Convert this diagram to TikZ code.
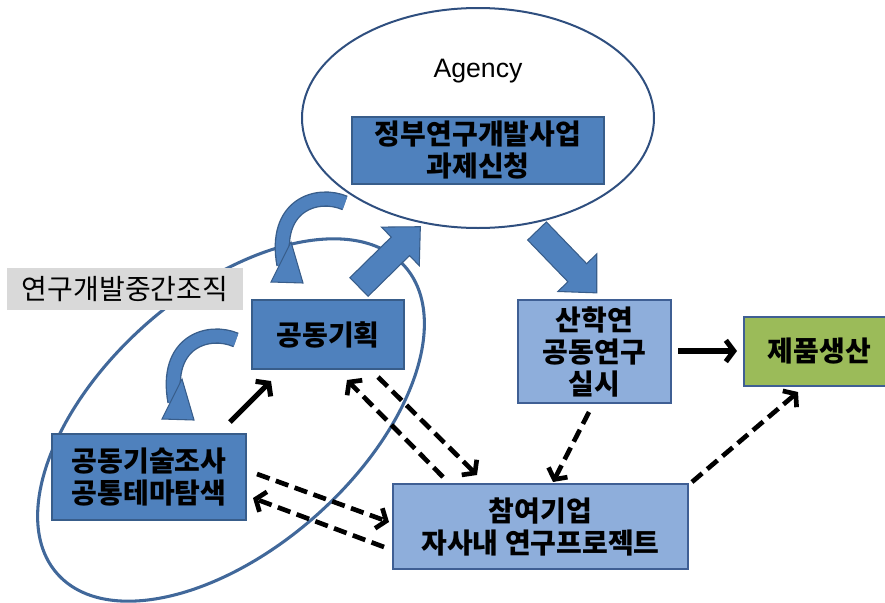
\documentclass[tikz,border=0pt]{standalone}
\usepackage{fontspec}
\setmainfont{Noto Sans CJK KR}
\newfontfamily\latinfont{Liberation Sans}
\usetikzlibrary{arrows.meta,shapes.geometric}

\definecolor{boxblue}{HTML}{4F81BD}
\definecolor{boxedge}{HTML}{385D8A}
\definecolor{lightblue}{HTML}{8EAEDB}
\definecolor{lightedge}{HTML}{3F5F94}
\definecolor{prodgreen}{HTML}{9BBB59}
\definecolor{ringblue}{HTML}{41689A}
\definecolor{agencyring}{HTML}{2F4F7F}
\definecolor{labelgray}{HTML}{D9D9D9}

\begin{document}
\begin{tikzpicture}[x=0.75pt,y=-0.75pt,
  darkbox/.style={draw=boxedge, fill=boxblue, line width=1.5pt, inner sep=0pt,
    align=center, font=\fontsize{21}{24}\selectfont\bfseries},
  lightbox/.style={darkbox, fill=lightblue, draw=lightedge},
  greenbox/.style={darkbox, fill=prodgreen, draw=lightedge},
  tagbox/.style={fill=labelgray, inner sep=0pt, font=\fontsize{21}{24}\selectfont},
  dasharrow/.style={line width=3.5pt, dash pattern=on 10pt off 5pt,
    -{Straight Barb[length=6pt,width=16pt]}},
  solidarrow/.style={line width=3.8pt, -{Straight Barb[length=6pt,width=16pt]}},
  blockarrow/.style={fill=boxblue, draw=boxedge, line width=0.8pt, line join=miter},
  loop arrow/.pic={
    \draw[boxedge, line width=11.5pt] (58,-80) .. controls (30,-92) and (-14,-78) .. (-3,-18);
    \draw[boxblue, line width=9.5pt] (58,-80) .. controls (30,-92) and (-14,-78) .. (-3,-18);
    \filldraw[fill=boxblue, draw=boxedge, line width=0.8pt] (4,-41) -- (-16,-1) -- (16,0) -- cycle;
  }
]
\useasboundingbox (0,0) rectangle (885,603);
\clip (0,0) rectangle (885,603);

% government agency
\node[ellipse, draw=agencyring, line width=1.5pt, minimum width=264pt, minimum height=165pt]
  (agency) at (478,118) {};
\node[font=\latinfont\fontsize{20}{22}\selectfont] (agencyname) at (478,71) {Agency};
\node[darkbox, minimum width=189pt, minimum height=50.25pt] (gov) at (478,150.5)
  {정부연구개발사업\\과제신청};

% intermediary organisation ring
\node[ellipse, draw=ringblue, line width=2.3pt, rotate=41.5,
  minimum width=348pt, minimum height=192pt] (ring) at (231,420) {};
\node[tagbox, minimum width=177pt, minimum height=31.5pt] (tag) at (125,289) {연구개발중간조직};

% boxes
\node[darkbox, minimum width=114pt, minimum height=51.75pt] (plan) at (328,334.5) {공동기획};
\node[darkbox, minimum width=145.5pt, minimum height=64.5pt] (survey) at (149,477)
  {공동기술조사\\공통테마탐색};
\node[lightbox, minimum width=114.75pt, minimum height=77.25pt] (joint) at (594.5,351.5)
  {산학연\\공동연구\\실시};
\node[greenbox, minimum width=113.25pt, minimum height=51.75pt] (product) at (819.5,351.5)
  {제품생산};
\node[lightbox, minimum width=221.25pt, minimum height=63.75pt] (company) at (540.5,526.5)
  {참여기업\\자사내 연구프로젝트};

% block arrows to and from the agency
\coordinate (uptail) at (359,287);
\coordinate (downtail) at (537,231);
\draw[blockarrow, shift={(uptail)}, rotate=44.5]
  (0,-13) -- (58,-13) -- (58,-27) -- (86,0) -- (58,27) -- (58,13) -- (0,13) -- cycle;
\draw[blockarrow, shift={(downtail)}, rotate=-46]
  (0,-13) -- (58,-13) -- (58,-27) -- (86,0) -- (58,27) -- (58,13) -- (0,13) -- cycle;

% self-loop arrows
\pic at (287,283) {loop arrow};
\pic at (178,420) {loop arrow};

% connector end points
\coordinate (s1a) at (230,422);  \coordinate (s1b) at (271,381);
\coordinate (s2a) at (678,351);  \coordinate (s2b) at (737,351);
\coordinate (d1a) at (378,377);  \coordinate (d1b) at (477,475);
\coordinate (d2a) at (443,477);  \coordinate (d2b) at (347,380);
\coordinate (d3a) at (257,474);  \coordinate (d3b) at (389,522);
\coordinate (d4a) at (384,547);  \coordinate (d4b) at (253,498);
\coordinate (d5a) at (589,412);  \coordinate (d5b) at (553,482);
\coordinate (d6a) at (692,482);  \coordinate (d6b) at (798,392);

\draw[solidarrow] (s1a) -- (s1b);
\draw[solidarrow] (s2a) -- (s2b);
\draw[dasharrow] (d1a) -- (d1b);
\draw[dasharrow] (d2a) -- (d2b);
\draw[dasharrow] (d3a) -- (d3b);
\draw[dasharrow] (d4a) -- (d4b);
\draw[dasharrow] (d5a) -- (d5b);
\draw[dasharrow] (d6a) -- (d6b);
\end{tikzpicture}
\end{document}
